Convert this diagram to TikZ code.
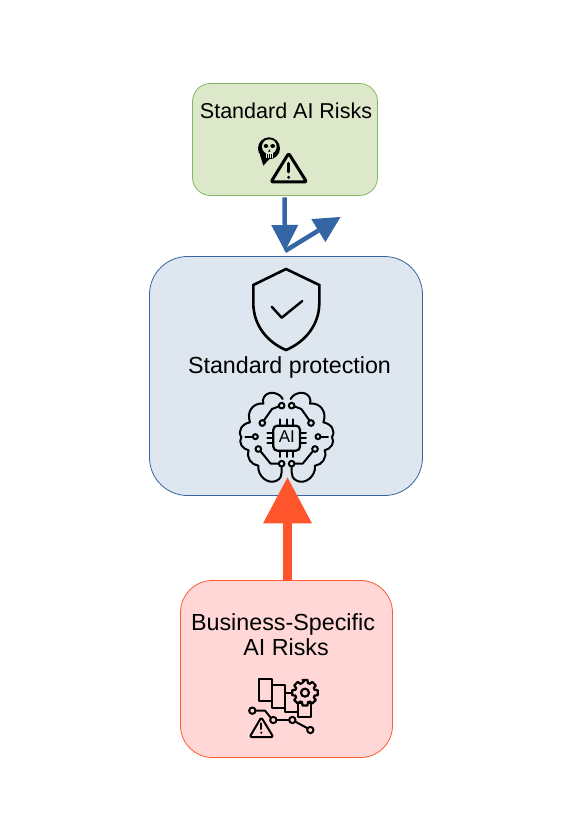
\documentclass[tikz,border=0pt]{standalone}
\usepackage{fontspec}
\setmainfont{Liberation Sans}
\usetikzlibrary{arrows.meta}
\definecolor{gfill}{HTML}{DDE8CB}
\definecolor{gline}{HTML}{82B964}
\definecolor{bfill}{HTML}{DEE6EF}
\definecolor{bline}{HTML}{3A62A0}
\definecolor{rfill}{HTML}{FFD7D7}
\definecolor{rline}{HTML}{FF5A30}
\definecolor{barrow}{HTML}{3465A4}
\definecolor{rarrow}{HTML}{FF552C}
\tikzset{
  box/.style={draw,inner sep=0pt,line width=0.8pt},
  label/.style={anchor=base,inner sep=0pt,text=black},
  bluearrow/.style={draw=barrow,line width=4.5pt,-{Triangle[length=26pt,width=27pt,fill=barrow,line width=0pt]}},
  redarrow/.style={draw=rarrow,line width=9.5pt,-{Triangle[length=46pt,width=49pt,fill=rarrow,line width=0pt]}},
  icon/.style={draw=black,line width=2pt,line join=round,line cap=round},
  thinicon/.style={draw=black,line width=2pt,line join=round,line cap=round},
  zoomed/.style={x=0.3333pt,y=-0.3333pt}
}
\newcommand{\brainhalf}{%
  \draw[thinicon] (158,42) .. controls (150,24) and (116,14) .. (102,36)
     .. controls (98,42) and (98,50) .. (100,56)
     .. controls (70,52) and (48,80) .. (60,112)
     .. controls (36,116) and (22,138) .. (34,156)
     .. controls (24,174) and (38,192) .. (56,196)
     .. controls (48,218) and (64,240) .. (85,242)
     .. controls (82,274) and (115,300) .. (140,287)
     .. controls (152,281) and (155,272) .. (155,262) -- (155,244);
  \draw[thinicon] (155,62) circle[radius=8.5];
  \draw[thinicon] (147,64) -- (126,72) -- (102,106);
  \draw[thinicon] (97,114) circle[radius=8.5];
  \draw[thinicon] (76,155) circle[radius=7.5];
  \draw[thinicon] (69,155) -- (46,155);
  \draw[thinicon] (85,192) circle[radius=8.5];
  \draw[thinicon] (91,198) -- (122,236) -- (147,236);
  \draw[thinicon] (155,236) circle[radius=8.5];
}
\begin{document}
\begin{tikzpicture}[x=1pt,y=-1pt]
\useasboundingbox (0,0) rectangle (567,832);
\fill[white] (0,0) rectangle (567,832);
% boxes
\node[box,draw=gline,fill=gfill,rounded corners=18pt,minimum width=185pt,minimum height=112pt] (std) at (285,139.5) {};
\node[box,draw=bline,fill=bfill,rounded corners=38pt,minimum width=273pt,minimum height=239pt] (prot) at (286,376) {};
\node[box,draw=rline,fill=rfill,rounded corners=32pt,minimum width=212pt,minimum height=177pt] (biz) at (286.5,669) {};
% labels
\node[label] (t1) at (286,118.5) {\fontsize{21.5}{26}\selectfont Standard AI Risks};
\node[label] (t2) at (289.5,373) {\fontsize{23.25}{28}\selectfont Standard protection};
\node[label] (t3) at (283,630) {\fontsize{23.3}{28}\selectfont Business-Specific};
\node[label] (t4) at (286,655) {\fontsize{23.3}{28}\selectfont AI Risks};
% connectors
\coordinate (bend) at (285,251);
\coordinate (free) at (340.5,217);
\draw[bluearrow] ([xshift=-0.5pt,yshift=-1.5pt]std.south) -- (bend);
\draw[bluearrow] (bend) -- (free);
\draw[redarrow] ([xshift=1pt]biz.north) -- ([xshift=1.5pt,yshift=18.5pt]prot.south);
% shield
\draw[icon,line width=2.6pt,line join=miter] (286,269) -- (319.3,285) -- (319.3,303)
   .. controls (319.3,325) and (305,342) .. (286,350)
   .. controls (267,342) and (253.3,325) .. (253.3,303) -- (253.3,285) -- cycle;
\draw[icon,line width=2.4pt] (271.7,306.7) -- (281.7,317.7) -- (302.3,301);
% brain
\begin{scope}[zoomed,shift={(230pt,-385pt)}]
  \brainhalf
  \begin{scope}[x=-0.3333pt,shift={(113.33pt,0pt)}]
    \brainhalf
  \end{scope}
  \draw[thinicon,line width=2.2pt,rounded corners=4pt] (130,122) rectangle (210,197);
  \foreach \p in {150,170,190}{
    \draw[thinicon] (\p,120) -- (\p,103);
    \draw[thinicon] (\p,199) -- (\p,216);
  }
  \foreach \q in {143,159,175}{
    \draw[thinicon] (128,\q) -- (112,\q);
    \draw[thinicon] (212,\q) -- (228,\q);
  }
\end{scope}
\node[inner sep=0pt,anchor=base] (ai) at (286.8,442.5) {\fontsize{17}{20}\selectfont AI};
% skull bubble + warning triangle
\begin{scope}[zoomed,shift={(250pt,-130pt)}]
  \fill[black] (57,55) circle[radius=33];
  \fill[black] (30,75) -- (40,107) -- (60,85) -- cycle;
  \fill[gfill] (58,50) circle[radius=22];
  \fill[gfill] (47,62) rectangle (69,84);
  \fill[black] (48,48) ellipse[x radius=7,y radius=6];
  \fill[black] (68,48) ellipse[x radius=7,y radius=6];
  \fill[black] (58,58) -- (54,65) -- (62,65) -- cycle;
  \draw[black,line width=1pt] (53,72) -- (53,84) (58,72) -- (58,84) (63,72) -- (63,84);
  \draw[icon,line width=3pt,fill=gfill,rounded corners=2pt] (116,70) -- (170,156) -- (63,156) -- cycle;
  \draw[icon,line width=3pt] (116,100) -- (116,126);
  \fill[black] (116,142) circle[radius=5];
\end{scope}
% business icon
\begin{scope}[zoomed,shift={(235pt,-670pt)}]
  \draw[thinicon,line width=2.2pt,fill=rfill] (188,100) rectangle (228,140);
  \draw[thinicon,line width=2.2pt,fill=rfill] (150,68) rectangle (188,127);
  \draw[thinicon,line width=2.2pt,fill=rfill] (110,45) rectangle (150,115);
  \draw[thinicon,line width=2.2pt,fill=rfill] (73,27) rectangle (110,93);
  % gear
  \draw[thinicon,line width=2.2pt,fill=rfill]
    (210,30) foreach \a in {0,45,...,315}{
      -- ({210+39*sin(\a-11)},{68-39*cos(\a-11)})
      -- ({210+39*sin(\a+11)},{68-39*cos(\a+11)})
      -- ({210+30*sin(\a+17)},{68-30*cos(\a+17)})
      -- ({210+30*sin(\a+28)},{68-30*cos(\a+28)})
    } -- cycle;
  \draw[thinicon,line width=2.2pt] (210,68) circle[radius=12];
  % polyline
  \draw[thinicon] (61,122) -- (90,122) -- (108,144);
  \draw[thinicon] (125,150) -- (163,150);
  \draw[thinicon] (181,155) -- (218,175);
  \foreach \cx/\cy in {52/122,115/150,172/150,226/180}{
    \draw[thinicon] (\cx,\cy) circle[radius=9.5];
  }
  % triangle
  \draw[thinicon,rounded corners=2pt] (79,142) -- (115,201) -- (44,201) -- cycle;
  \draw[thinicon] (79,160) -- (79,177);
  \fill[black] (79,188) circle[radius=3.5];
\end{scope}
\end{tikzpicture}
\end{document}
